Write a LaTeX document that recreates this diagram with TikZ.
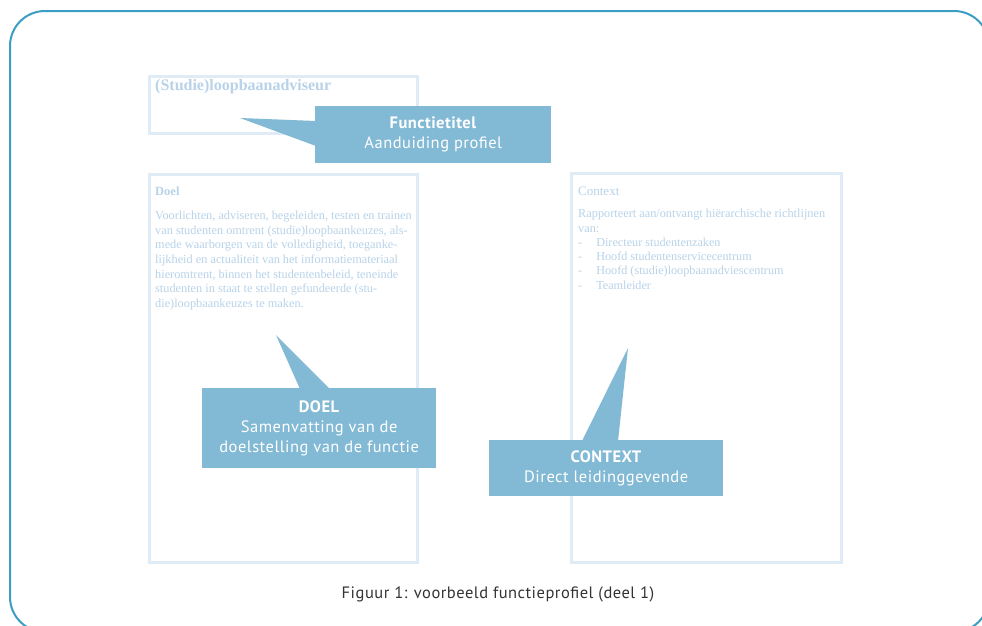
\documentclass[tikz,border=0pt]{standalone}
\usepackage{fontspec}
\setmainfont{PT Sans}[LetterSpace=3]
\newfontfamily\docfont{Liberation Serif}
\usetikzlibrary{calc}
\definecolor{framec}{HTML}{3A9EC2}
\definecolor{callc}{HTML}{82B9D4}
\definecolor{docline}{HTML}{DFECF6}
\definecolor{doctext}{HTML}{B8D3E9}
\definecolor{capc}{HTML}{333333}
\tikzset{
  docbox/.style={draw=docline, line width=2.5pt, fill=white, inner sep=0pt},
  callbox/.style={fill=callc, text=white, inner sep=0pt, align=center, font=\fontsize{16.5}{20}\selectfont},
  calltip/.style={fill=callc},
  doctxt/.style={text=doctext, anchor=north west, inner sep=0pt, align=left, font=\docfont\fontsize{12.2}{14.6}\selectfont},
}
\begin{document}
\begin{tikzpicture}[x=1pt,y=-1pt]
\useasboundingbox (0,0) rectangle (982,625);
\clip (0,0) rectangle (982,625);
% outer frame
\draw[framec, line width=2pt, rounded corners=35pt] (10,11) rectangle (989,632);
% document boxes
\node[docbox, minimum width=268pt, minimum height=57pt, anchor=north west] (title) at (148,75) {};
\node[docbox, minimum width=268pt, minimum height=388pt, anchor=north west] (doel) at (148,173) {};
\node[docbox, minimum width=270pt, minimum height=389pt, anchor=north west] (ctx) at (570,172) {};
% document texts
\node[doctxt, font=\docfont\bfseries\fontsize{16}{17}\selectfont] (tt) at (155,79) {(Studie)loopbaanadviseur};
\node[doctxt, font=\docfont\bfseries\fontsize{12.5}{14}\selectfont] (dh) at (155,187) {Doel};
\node[doctxt, font=\docfont\fontsize{12.3}{14.6}\selectfont] (dp) at (155,211) {Voorlichten, adviseren, begeleiden, testen en trainen\\van studenten omtrent (studie)loopbaankeuzes, als-\\mede waarborgen van de volledigheid, toeganke-\\lijkheid en actualiteit van het informatiemateriaal\\hieromtrent, binnen het studentenbeleid, teneinde\\studenten in staat te stellen gefundeerde (stu-\\die)loopbaankeuzes te maken.};
\node[doctxt, font=\docfont\fontsize{13}{14}\selectfont] (ch) at (578,187) {Context};
\node[doctxt, font=\docfont\fontsize{12.3}{14.6}\selectfont] (cp) at (578,209) {Rapporteert aan/ontvangt hiërarchische richtlijnen\\van:};
\node[doctxt] (b1) at (578,238) {-\hspace{14pt}Directeur studentenzaken};
\node[doctxt] (b2) at (578,252) {-\hspace{14pt}Hoofd studentenservicecentrum};
\node[doctxt] (b3) at (578,266) {-\hspace{14pt}Hoofd (studie)loopbaanadviescentrum};
\node[doctxt] (b4) at (578,281) {-\hspace{14pt}Teamleider};
% callouts
\node[callbox, minimum width=236pt, minimum height=57pt, anchor=north west] (fbox) at (315,106) {\textbf{Functietitel}\\Aanduiding profiel};
\coordinate (ftip) at (240,118);
\fill[calltip] (ftip) -- ($(fbox.north west)+(1,15)$) -- ($(fbox.north west)+(1,40)$) -- cycle;
\node[callbox, minimum width=234pt, minimum height=80pt, anchor=north west] (dbox) at (202,388) {\textbf{DOEL}\\Samenvatting van de\\doelstelling van de functie};
\coordinate (dtip) at (276,335);
\fill[calltip] (dtip) -- ($(dbox.north west)+(128,1)$) -- ($(dbox.north west)+(98,1)$) -- cycle;
\node[callbox, minimum width=234pt, minimum height=56pt, anchor=north west] (cbox) at (489,440) {\textbf{CONTEXT}\\Direct leidinggevende};
\coordinate (ctip) at (628,348);
\fill[calltip] (ctip) -- ($(cbox.north west)+(129,1)$) -- ($(cbox.north west)+(93,1)$) -- cycle;
% caption
\node[text=capc, font=\fontsize{16.5}{18}\selectfont, inner sep=0pt] (cap) at (498,594) {Figuur 1: voorbeeld functieprofiel (deel 1)};
\end{tikzpicture}
\end{document}
